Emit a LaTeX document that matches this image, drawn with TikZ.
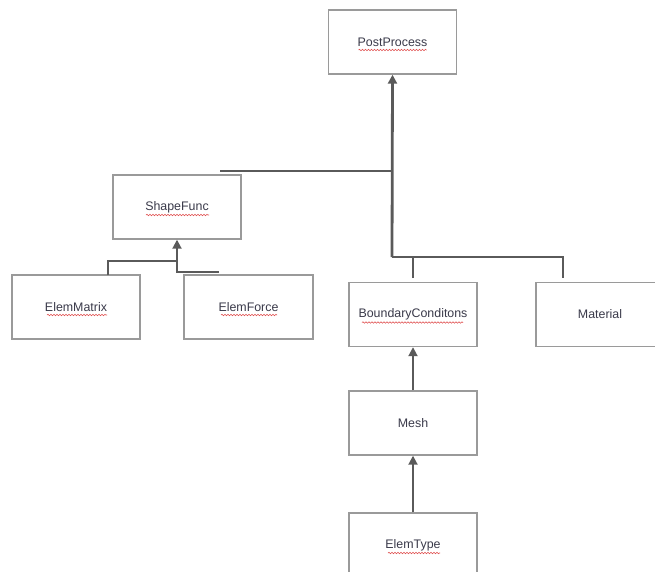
\documentclass[tikz,border=0pt]{standalone}
\usepackage{fontspec}
\setmainfont{Liberation Sans}
\usetikzlibrary{arrows.meta,decorations.pathmorphing}
\definecolor{boxline}{HTML}{9A9A9A}
\definecolor{conn}{HTML}{5A5A5A}
\definecolor{txt}{HTML}{3A3A4A}
\definecolor{squig}{HTML}{E05050}
\tikzset{
  cls/.style={draw=boxline, line width=1.4pt, fill=white, minimum width=128pt, minimum height=64pt, inner sep=0pt, text=txt, font=\fontsize{12.4}{14}\selectfont},
  conline/.style={draw=conn, line width=1.9pt},
  trunk/.style={draw=conn, line width=2.8pt},
  arr/.style={-{Triangle[length=9pt,width=9pt]}},
  squiggle/.style={draw=squig, line width=0.6pt, decorate, decoration={snake, amplitude=0.7pt, segment length=3pt}}
}
\begin{document}
\begin{tikzpicture}[x=1pt,y=-1pt]
\useasboundingbox (0,0) rectangle (655,571);
\begin{scope}
\clip (0,0) rectangle (655,571);
% classes
\node[cls] (pp) at (392.5,42) {PostProcess};
\node[cls] (sf) at (177,207) {ShapeFunc};
\node[cls] (em) at (76,307) {ElemMatrix};
\node[cls, minimum width=129pt] (ef) at (248.5,307) {ElemForce};
\node[cls] (bc) at (413,314.5) {BoundaryConditons};
\node[cls] (mat) at (600,314.5) {Material};
\node[cls] (mesh) at (413,423) {Mesh};
\node[cls] (et) at (413,545) {ElemType};
% free ends
\coordinate (tbase) at (392,257);
\coordinate (tmid) at (392,171);
\coordinate (lfree) at (220,171);
\coordinate (bcdrop) at (413,278);
\coordinate (matdrop) at (563,278);
\coordinate (sfbase) at (177,261);
\coordinate (emtop) at (108,275);
\coordinate (effree) at (219,272);
% connectors
\draw[trunk, arr] (tbase) -- (pp.south);
\draw[conline] (lfree) -- (tmid);
\draw[conline] (bcdrop) |- (tbase);
\draw[conline] (tbase) -| (matdrop);
\draw[conline, arr] (sfbase) -- (sf.south);
\draw[conline] (emtop) |- (sfbase);
\draw[conline] (sfbase) |- (effree);
\draw[conline, arr] (mesh.north) -- (bc.south);
\draw[conline, arr] (et.north -| mesh.south) -- (mesh.south);
% spell-check underlines
\draw[squiggle] (358.5,50) -- (426.5,50);
\draw[squiggle] (146,215) -- (209,215);
\draw[squiggle] (47,315) -- (107,315);
\draw[squiggle] (221,315) -- (277,315);
\draw[squiggle] (362,322.5) -- (463,322.5);
\draw[squiggle] (388,553) -- (440,553);
\end{scope}
\end{tikzpicture}
\end{document}
